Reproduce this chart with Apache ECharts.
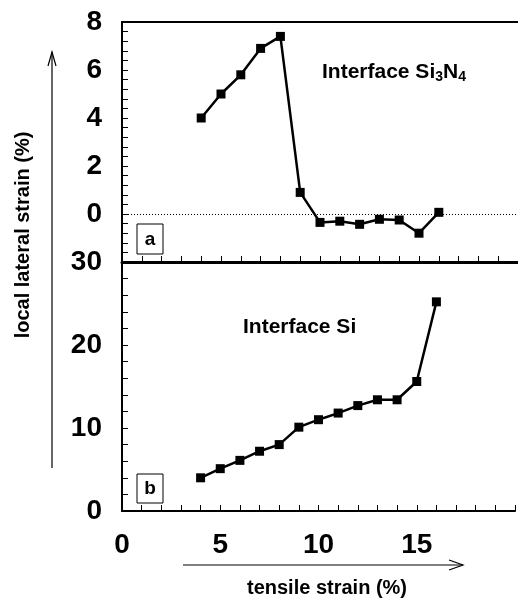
<!DOCTYPE html>
<html>
<head>
<meta charset="utf-8">
<script src="https://cdn.jsdelivr.net/npm/echarts@6/dist/echarts.min.js"></script>
<style>
  html, body { margin: 0; padding: 0; background: #fff; }
  #main { width: 518px; height: 603px; }
</style>
</head>
<body>
<div id="main"></div>
<script>
var strain = [4, 5, 6, 7, 8, 9, 10, 11, 12, 13, 14, 15, 16];
// (a) interface Si3N4
var lateralSiN = [4.0, 5.0, 5.8, 6.9, 7.4, 0.9, -0.35, -0.3, -0.43, -0.22, -0.25, -0.8, 0.07];
// (b) interface Si
var lateralSi = [4.0, 5.1, 6.1, 7.2, 8.0, 10.1, 11.0, 11.8, 12.7, 13.4, 13.4, 15.6, 25.2];

var FONT = '"Liberation Sans", Arial, Helvetica, sans-serif';
var myChart = echarts.init(document.getElementById('main'));

function pairs(xs, ys) {
    return xs.map(function (x, i) { return [x, ys[i]]; });
}

var tickStyle = { show: true, inside: true, length: 6, lineStyle: { color: '#000', width: 1 } };
var minorStyle = { show: true, splitNumber: 5, length: 6, lineStyle: { color: '#000', width: 1 } };

option = {
    animation: false,
    grid: [
        { left: 122, top: 22, width: 400, height: 240 },
        { left: 122, top: 262, width: 400, height: 249 }
    ],
    xAxis: [
        { // top frame line of panel a
            gridIndex: 0, type: 'value', min: 0, max: 20, position: 'top',
            axisLine: { show: true, onZero: false, lineStyle: { color: '#000', width: 2 } },
            axisTick: { show: false }, axisLabel: { show: false }, splitLine: { show: false }
        },
        { // bottom of panel a
            gridIndex: 0, type: 'value', min: 0, max: 20, interval: 1, position: 'bottom',
            axisLine: { show: true, onZero: false, lineStyle: { color: '#000', width: 3 } },
            axisTick: tickStyle, axisLabel: { show: false }, splitLine: { show: false }
        },
        { // bottom of panel b
            gridIndex: 1, type: 'value', min: 0, max: 20, interval: 5, position: 'bottom',
            axisLine: { show: true, onZero: false, lineStyle: { color: '#000', width: 2 } },
            axisTick: tickStyle,
            minorTick: minorStyle,
            axisLabel: {
                show: true, margin: 20, color: '#000', fontSize: 28, fontWeight: 'bold', fontFamily: FONT,
                formatter: function (v) { return v < 20 ? String(v) : ''; }
            },
            splitLine: { show: false }
        }
    ],
    yAxis: [
        {
            gridIndex: 0, type: 'value', min: -2, max: 8, interval: 2,
            axisLine: { show: true, onZero: false, lineStyle: { color: '#000', width: 2 } },
            axisTick: tickStyle,
            minorTick: minorStyle,
            axisLabel: {
                margin: 20, color: '#000', fontSize: 28, fontWeight: 'bold', fontFamily: FONT,
                formatter: function (v) { return v < 0 ? '' : String(v); }
            },
            splitLine: { show: false }
        },
        {
            gridIndex: 1, type: 'value', min: 0, max: 30, interval: 10,
            axisLine: { show: true, onZero: false, lineStyle: { color: '#000', width: 2 } },
            axisTick: tickStyle,
            minorTick: minorStyle,
            axisLabel: {
                margin: 20, color: '#000', fontSize: 28, fontWeight: 'bold', fontFamily: FONT
            },
            splitLine: { show: false }
        }
    ],
    series: [
        {
            name: 'Interface Si3N4',
            type: 'line',
            xAxisIndex: 1, yAxisIndex: 0,
            data: pairs(strain, lateralSiN),
            symbol: 'rect', symbolSize: 9,
            itemStyle: { color: '#000' },
            lineStyle: { color: '#000', width: 2.5 },
            markLine: {
                silent: true, symbol: 'none', label: { show: false },
                lineStyle: { color: '#000', width: 1, type: [1, 2] },
                data: [{ yAxis: 0 }]
            }
        },
        {
            name: 'Interface Si',
            type: 'line',
            xAxisIndex: 2, yAxisIndex: 1,
            data: pairs(strain, lateralSi),
            symbol: 'rect', symbolSize: 9,
            itemStyle: { color: '#000' },
            lineStyle: { color: '#000', width: 2.5 }
        }
    ],
    graphic: [
        { // y title
            type: 'text', x: 23, y: 235, rotation: Math.PI / 2,
            style: { text: 'local lateral strain (%)', fill: '#000', font: 'bold 20px ' + FONT, align: 'center', verticalAlign: 'middle' }
        },
        {
            type: 'polyline', shape: { points: [[52, 468], [52, 52]] },
            style: { stroke: '#000', lineWidth: 1.2, fill: null }
        },
        {
            type: 'polyline', shape: { points: [[48, 66], [52, 52], [56, 66]] },
            style: { stroke: '#000', lineWidth: 1.2, fill: null }
        },
        { // x title
            type: 'text', x: 327, y: 588,
            style: { text: 'tensile strain (%)', fill: '#000', font: 'bold 20px ' + FONT, align: 'center', verticalAlign: 'middle' }
        },
        {
            type: 'polyline', shape: { points: [[183, 565], [463, 565]] },
            style: { stroke: '#000', lineWidth: 1.2, fill: null }
        },
        {
            type: 'polyline', shape: { points: [[449, 560], [463, 565], [449, 570]] },
            style: { stroke: '#000', lineWidth: 1.2, fill: null }
        },
        { // panel labels
            type: 'rect', shape: { x: 137, y: 224, width: 26, height: 30 },
            style: { fill: '#fff', stroke: '#000', lineWidth: 1 }
        },
        {
            type: 'text', x: 150, y: 240,
            style: { text: 'a', fill: '#000', font: 'bold 19px ' + FONT, align: 'center', verticalAlign: 'middle' }
        },
        {
            type: 'rect', shape: { x: 137, y: 474, width: 26, height: 29 },
            style: { fill: '#fff', stroke: '#000', lineWidth: 1 }
        },
        {
            type: 'text', x: 150, y: 489,
            style: { text: 'b', fill: '#000', font: 'bold 19px ' + FONT, align: 'center', verticalAlign: 'middle' }
        },
        {
            type: 'text', x: 322, y: 72,
            style: {
                text: 'Interface Si{sub|3}N{sub|4}',
                fill: '#000', font: 'bold 21px ' + FONT, verticalAlign: 'middle',
                rich: { sub: { fontSize: 14, fontWeight: 'bold', fontFamily: FONT, padding: [10, 0, 0, 0] } }
            }
        },
        {
            type: 'text', x: 243, y: 327,
            style: { text: 'Interface Si', fill: '#000', font: 'bold 21px ' + FONT, verticalAlign: 'middle' }
        }
    ]
};

myChart.setOption(option);
</script>
</body>
</html>
